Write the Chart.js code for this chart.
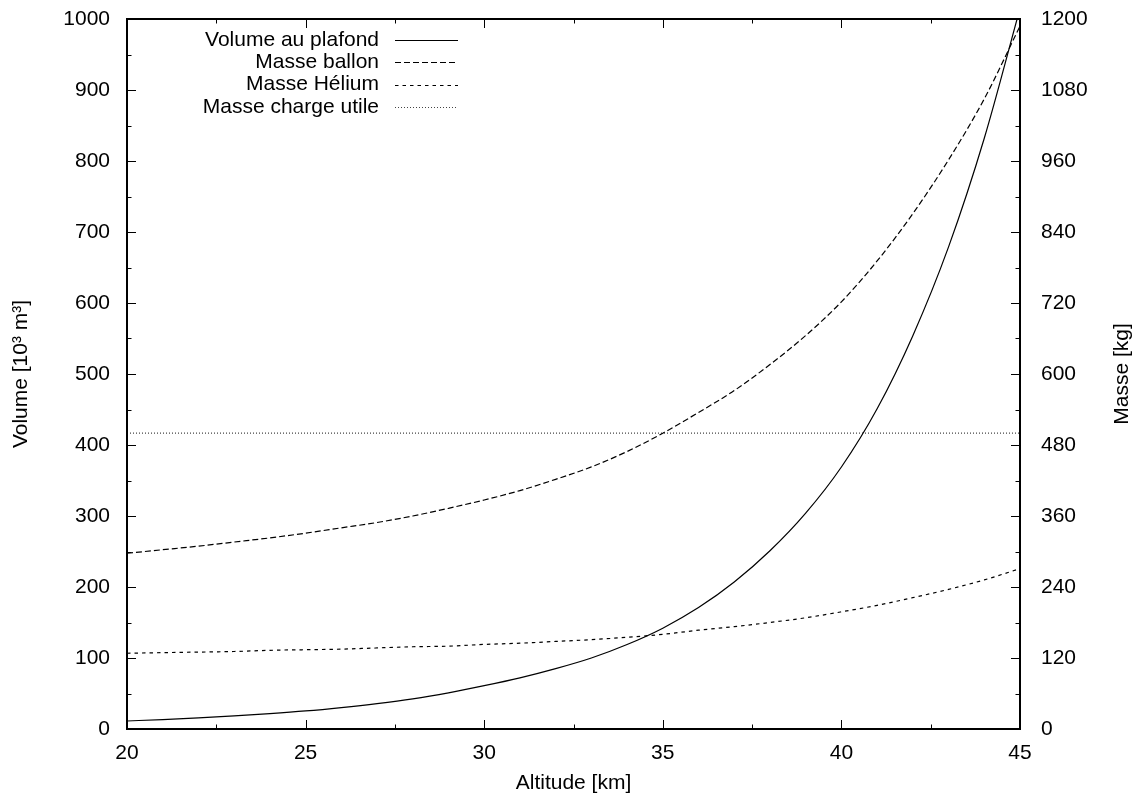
<!DOCTYPE html>
<html>
<head>
<meta charset="utf-8">
<script src="https://cdn.jsdelivr.net/npm/chart.js@4/dist/chart.umd.min.js"></script>
<style>
  html, body { margin: 0; padding: 0; background: #fff; }
  #wrap { width: 1142px; height: 796px; }
</style>
</head>
<body>
<div id="wrap"><canvas id="balloonChart"></canvas></div>
<script>
// altitude in km
const altitudes = [20, 21, 22, 23, 24, 25, 26, 27, 28, 29, 30, 31, 32, 33, 34, 35, 36, 37, 38, 39, 40, 41, 42, 43, 44, 45];
// volume au plafond, 10^3 m3 (left axis)
const volumePlafond = [11.3, 13.3, 15.6, 18.4, 21.6, 25.4, 30.2, 35.8, 42.5, 51, 61, 72, 85, 100, 119, 142, 171, 207, 251, 304, 369, 451, 554, 679, 832, 1015];
// masses in kg (right axis)
const masseBallon = [297, 303, 309, 316, 323, 331, 340, 349, 360, 373, 387, 403, 422, 443, 469, 500, 535, 572, 616, 665, 722, 791, 871, 962, 1065, 1188];
const masseHelium = [128, 129, 130, 131, 133, 134, 135, 137, 139, 140, 143, 145, 148, 151, 155, 160, 167, 173, 180, 188, 198, 209, 222, 236, 252, 271];
const masseChargeUtile = [500, 500, 500, 500, 500, 500, 500, 500, 500, 500, 500, 500, 500, 500, 500, 500, 500, 500, 500, 500, 500, 500, 500, 500, 500, 500];

const seriesLabels = ['Volume au plafond', 'Masse ballon', 'Masse Hélium', 'Masse charge utile'];
const xTicks = [20, 25, 30, 35, 40, 45];
const yTicks = [0, 100, 200, 300, 400, 500, 600, 700, 800, 900, 1000];
const y2Ticks = [0, 120, 240, 360, 480, 600, 720, 840, 960, 1080, 1200];

const FONT = '"Liberation Sans", Arial, Helvetica, sans-serif';
const FONT_SIZE = 21;

function pts(ys) {
    return altitudes.map((a, i) => ({ x: a, y: ys[i] }));
}

// gnuplot-like frame with inward major and minor tics
const framePlugin = {
    id: 'frame',
    afterDatasetsDraw(chart) {
        const { ctx, chartArea: a, scales } = chart;
        ctx.save();
        ctx.strokeStyle = '#000';
        ctx.lineWidth = 1;
        ctx.setLineDash([]);
        ctx.beginPath();
        for (let v = 20; v <= 45; v += 2.5) {
            const px = Math.round(scales.x.getPixelForValue(v)) + 0.5;
            const len = v % 5 === 0 ? 9 : 4.5;
            ctx.moveTo(px, a.bottom); ctx.lineTo(px, a.bottom - len);
            ctx.moveTo(px, a.top); ctx.lineTo(px, a.top + len);
        }
        for (let v = 0; v <= 1000; v += 50) {
            const py = Math.round(scales.y.getPixelForValue(v)) + 0.5;
            const len = v % 100 === 0 ? 9 : 4.5;
            ctx.moveTo(a.left, py); ctx.lineTo(a.left + len, py);
        }
        for (let v = 0; v <= 1200; v += 60) {
            const py = Math.round(scales.y2.getPixelForValue(v)) + 0.5;
            const len = v % 120 === 0 ? 9 : 4.5;
            ctx.moveTo(a.right, py); ctx.lineTo(a.right - len, py);
        }
        ctx.stroke();
        ctx.lineWidth = 2;
        ctx.strokeRect(a.left, a.top, a.right - a.left, a.bottom - a.top);

        // right axis title, reading bottom to top as in gnuplot
        ctx.fillStyle = '#000';
        ctx.font = FONT_SIZE + 'px ' + FONT;
        ctx.textAlign = 'center';
        ctx.textBaseline = 'middle';
        ctx.translate(1122, (a.top + a.bottom) / 2);
        ctx.rotate(-Math.PI / 2);
        ctx.fillText('Masse [kg]', 0, 0);
        ctx.restore();

        // key: text right-aligned, sample line after it
        ctx.save();
        ctx.font = FONT_SIZE + 'px ' + FONT;
        ctx.fillStyle = '#000';
        ctx.textAlign = 'right';
        ctx.textBaseline = 'middle';
        chart.data.datasets.forEach((ds, i) => {
            const y = 40 + i * 22.3;
            ctx.fillText(ds.label, 379, y);
            ctx.strokeStyle = ds.borderColor;
            ctx.lineWidth = ds.borderWidth;
            ctx.setLineDash(ds.borderDash || []);
            ctx.beginPath();
            ctx.moveTo(395, Math.round(y) + 0.5);
            ctx.lineTo(458, Math.round(y) + 0.5);
            ctx.stroke();
        });
        ctx.restore();
    }
};

const plainTick = v => String(v);
const noPad = (scale, w) => {
    scale.width = w;
    scale.paddingTop = 0;
    scale.paddingBottom = 0;
};

const chartContainer = document.getElementById('balloonChart').getContext('2d');
new Chart(chartContainer, {
    type: 'line',
    data: {
        datasets: [
            { label: seriesLabels[0], data: pts(volumePlafond), yAxisID: 'y', borderColor: '#000', borderWidth: 1.2, borderDash: [] },
            { label: seriesLabels[1], data: pts(masseBallon), yAxisID: 'y2', borderColor: '#000', borderWidth: 1.2, borderDash: [6, 3] },
            { label: seriesLabels[2], data: pts(masseHelium), yAxisID: 'y2', borderColor: '#000', borderWidth: 1.2, borderDash: [3.5, 4] },
            { label: seriesLabels[3], data: pts(masseChargeUtile), yAxisID: 'y2', borderColor: '#444', borderWidth: 1.2, borderDash: [1, 2] }
        ]
    },
    options: {
        responsive: true,
        maintainAspectRatio: false,
        animation: false,
        layout: { padding: { top: 19, left: 0, right: 0, bottom: 0 } },
        elements: {
            point: { radius: 0, hoverRadius: 0 },
            line: { cubicInterpolationMode: 'monotone', fill: false }
        },
        plugins: {
            legend: { display: false },
            tooltip: { enabled: false }
        },
        scales: {
            x: {
                type: 'linear',
                min: 20,
                max: 45,
                afterFit(scale) { scale.height = 67; scale.paddingLeft = 0; scale.paddingRight = 0; },
                afterBuildTicks(scale) { scale.ticks = xTicks.map(v => ({ value: v })); },
                grid: { display: false },
                border: { display: false },
                ticks: { color: '#000', font: { family: FONT, size: FONT_SIZE }, padding: 4, maxRotation: 0, callback: plainTick },
                title: { display: true, text: 'Altitude [km]', color: '#000', font: { family: FONT, size: FONT_SIZE }, padding: { top: 0, bottom: 0 } }
            },
            y: {
                type: 'linear',
                position: 'left',
                min: 0,
                max: 1000,
                afterFit(scale) { noPad(scale, 127); },
                afterBuildTicks(scale) { scale.ticks = yTicks.map(v => ({ value: v })); },
                grid: { display: false },
                border: { display: false },
                ticks: { color: '#000', font: { family: FONT, size: FONT_SIZE }, padding: 9, callback: plainTick },
                title: { display: true, text: 'Volume [10³ m³]', color: '#000', font: { family: FONT, size: FONT_SIZE }, padding: { top: 9, bottom: 0 } }
            },
            y2: {
                type: 'linear',
                position: 'right',
                min: 0,
                max: 1200,
                afterFit(scale) { noPad(scale, 122); },
                afterBuildTicks(scale) { scale.ticks = y2Ticks.map(v => ({ value: v })); },
                grid: { display: false },
                border: { display: false },
                ticks: { color: '#000', font: { family: FONT, size: FONT_SIZE }, padding: 13, callback: plainTick }
            }
        }
    },
    plugins: [framePlugin]
});
</script>
</body>
</html>
